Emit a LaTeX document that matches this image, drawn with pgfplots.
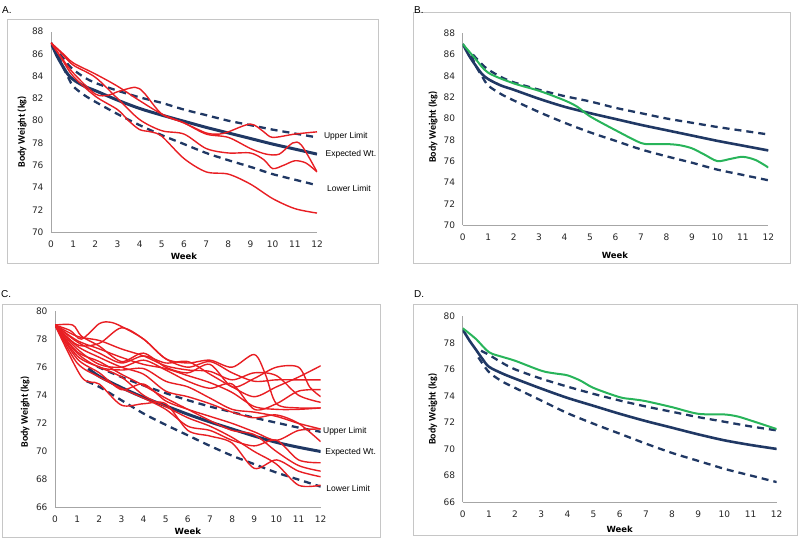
\documentclass[border=0pt]{standalone}
\usepackage{fontspec}
\usepackage{pgfplots}
\pgfplotsset{compat=1.18}
\newfontfamily\dv{DejaVu Sans}
\newfontfamily\lib{Liberation Sans}
\newfontfamily\carl{Carlito}
\definecolor{navy}{RGB}{32,56,100}
\definecolor{redc}{RGB}{232,30,35}
\definecolor{greenc}{RGB}{40,180,90}
\newcommand\tickf{\dv\fontsize{9}{10}\selectfont}
\newcommand\wkf{\dv\bfseries\fontsize{8.5}{10}\selectfont}
\newcommand\bwf{\carl\bfseries\fontsize{10}{12}\selectfont}
\newcommand\labf{\lib\fontsize{8.5}{10}\selectfont}
\newcommand\panf{\lib\fontsize{10}{12}\selectfont}
\pgfplotsset{
  panel/.style={scale only axis, anchor=south west,
    axis x line*=bottom, axis y line*=left,
    axis line style={draw=gray!70, line width=0.6pt, -},
    tick style={draw=none},
    xmin=0, xmax=12, xtick={0,1,...,12}, ytick distance=2,
    enlargelimits=false, clip mode=individual,
    /pgf/number format/assume math mode=true,
    ticklabel style={font=\tickf, text=black!85},
    xticklabel style={yshift=-5pt},
    yticklabel style={xshift=-4pt},
    xlabel={Week}, ylabel={Body Weight (kg)},
    xlabel style={font=\wkf, anchor=center},
    ylabel style={font=\bwf, anchor=center},
  },
  expc/.style={navy, line width=3pt, smooth},
  lim/.style={navy, line width=2.3pt, dash pattern=on 7pt off 5pt, smooth},
  rl/.style={redc, line width=1.4pt, smooth},
  gl/.style={greenc, line width=2pt, smooth},
}
\begin{document}
\begin{tikzpicture}
\path[use as bounding box] (0pt,0pt) rectangle (800pt,545pt);
% frames
\draw[gray!45, line width=0.8pt] (7pt,526pt) rectangle (378pt,282pt);
\draw[gray!45, line width=0.8pt] (413pt,533pt) rectangle (790pt,282pt);
\draw[gray!45, line width=0.8pt] (2pt,241pt) rectangle (380pt,8pt);
\draw[gray!45, line width=0.8pt] (413pt,241pt) rectangle (797pt,10pt);
\node[anchor=west, font=\panf, inner sep=0pt] at (2pt,535pt) {A.};
\node[anchor=west, font=\panf, inner sep=0pt] at (414pt,535pt) {B.};
\node[anchor=west, font=\panf, inner sep=0pt] at (1pt,251pt) {C.};
\node[anchor=west, font=\panf, inner sep=0pt] at (414pt,251pt) {D.};

% ---------------- A ----------------
\begin{axis}[panel, at={(51pt,313pt)}, width=266pt, height=200.3pt, ymin=70, ymax=88,
  xlabel style={at={(axis description cs:0.5,-0.12)}},
  ylabel style={at={(axis description cs:-0.109,0.5)}}]
\addplot[expc] coordinates {(0,87) (0.25,85.9) (0.5,85.0) (0.75,84.2) (1,83.7) (1.5,83.1) (2,82.7) (3,81.85) (4,81.1) (5,80.5) (6,79.95) (7,79.4) (8,78.9) (9,78.4) (10,77.9) (11,77.45) (12,77.0)};
\addplot[lim] coordinates {(0.4,86.0) (0.75,85.1) (1,84.6) (1.5,83.9) (2,83.4) (3,82.7) (4,82.1) (5,81.6) (6,81.0) (7,80.5) (8,80.0) (9,79.6) (10,79.2) (11,78.85) (12,78.5)};
\addplot[lim] coordinates {(0.35,85.9) (0.5,85.0) (0.75,84.0) (1,83.1) (1.5,82.3) (2,81.7) (3,80.6) (4,79.6) (5,78.7) (6,77.9) (7,77.1) (8,76.45) (9,75.85) (10,75.2) (11,74.7) (12,74.2)};
\addplot[rl] coordinates {(0,87) (0.5,86.1) (1,85.2) (2,84.2) (3,83.1) (4,81.8) (5,80.6) (6,79.8) (7,78.9) (7.6,78.8) (8,79.0) (9,79.7) (9.6,79.0) (10,78.5) (11,78.8) (12,79.0)};
\addplot[rl] coordinates {(0,87) (0.5,85.6) (1,84.3) (2,82.4) (2.6,82.3) (3,82.6) (3.8,83.0) (4.2,82.5) (5,80.6) (6,79.8) (7,78.8) (8,78.5) (9,77.5) (9.7,77.0) (10.3,77.0) (10.9,78.0) (11.3,77.8) (12,75.4)};
\addplot[rl] coordinates {(0,87) (0.5,85.5) (1,84.0) (2,82.2) (3,81.0) (3.5,80.0) (4,79.2) (4.5,79.0) (5,78.6) (6,76.6) (7,75.4) (8,75.2) (9,74.3) (10,73.0) (11,72.1) (12,71.7)};
\addplot[rl] coordinates {(0,87) (0.5,86.0) (1,85.0) (2,83.9) (3,82.0) (4,80.1) (5,79.1) (6,78.8) (7,77.5) (8,77.1) (9,77.1) (9.6,76.5) (10,75.7) (10.5,76.0) (11,76.4) (11.5,76.2) (12,75.4)};
\node[anchor=west, font=\labf, inner sep=0pt] at (axis cs:12.31,78.63) {Upper Limit};
\node[anchor=west, font=\labf, inner sep=0pt] at (axis cs:12.38,76.98) {Expected Wt.};
\node[anchor=west, font=\labf, inner sep=0pt] at (axis cs:12.45,73.93) {Lower Limit};
\end{axis}

% ---------------- B ----------------
\begin{axis}[panel, at={(462.7pt,320pt)}, width=305.6pt, height=191.7pt, ymin=70, ymax=88,
  xlabel style={at={(axis description cs:0.498,-0.156)}},
  ylabel style={at={(axis description cs:-0.097,0.51)}}]
\addplot[expc, line width=2.6pt] coordinates {(0,87) (0.25,85.9) (0.5,85.0) (0.75,84.2) (1,83.7) (1.5,83.1) (2,82.7) (3,81.85) (4,81.1) (5,80.5) (6,79.95) (7,79.4) (8,78.9) (9,78.4) (10,77.9) (11,77.45) (12,77.0)};
\addplot[lim] coordinates {(0.4,86.0) (0.75,85.1) (1,84.6) (1.5,83.9) (2,83.4) (3,82.7) (4,82.1) (5,81.6) (6,81.0) (7,80.5) (8,80.0) (9,79.6) (10,79.2) (11,78.85) (12,78.5)};
\addplot[lim] coordinates {(0.35,85.9) (0.5,85.0) (0.75,84.0) (1,83.1) (1.5,82.3) (2,81.7) (3,80.6) (4,79.6) (5,78.7) (6,77.9) (7,77.1) (8,76.45) (9,75.85) (10,75.2) (11,74.7) (12,74.2)};
\addplot[gl] coordinates {(0,87) (0.5,85.6) (1,84.3) (2,83.3) (3,82.6) (4,81.7) (4.5,81.1) (5,80.2) (6,78.9) (7,77.7) (7.5,77.6) (8,77.6) (8.5,77.5) (9,77.2) (9.5,76.6) (10,76.0) (10.5,76.2) (11,76.4) (11.5,76.1) (12,75.4)};
\end{axis}

% ---------------- C ----------------
\begin{axis}[panel, at={(55pt,37.3pt)}, width=265.7pt, height=196.7pt, ymin=66, ymax=80,
  xlabel style={at={(axis description cs:0.5,-0.118)}},
  ylabel style={at={(axis description cs:-0.113,0.487)}}]
\addplot[expc] coordinates {(1.5,75.9) (2,75.35) (3,74.55) (4,73.85) (5,73.25) (6,72.65) (7,72.1) (8,71.6) (9,71.1) (10,70.65) (11,70.3) (12,70.0)};
\addplot[lim] coordinates {(1.9,76.05) (3,75.3) (4,74.7) (5,74.15) (6,73.65) (7,73.2) (8,72.8) (9,72.4) (10,72.05) (11,71.7) (12,71.4)};
\addplot[lim] coordinates {(1.43,75.0) (2,74.6) (3,73.65) (4,72.7) (5,71.9) (6,71.15) (7,70.4) (8,69.7) (9,69.1) (10,68.5) (11,68.0) (12,67.5)};
\addplot[rl] coordinates {(0,79) (0.7,78.6) (1.2,78.0) (2,79.1) (2.5,79.2) (3,78.9) (4,78.0) (5,76.6) (6,76.0) (7,76.4) (8,75.6) (9,75.0) (10,75.1) (11,75.1) (12,75.1)};
\addplot[rl] coordinates {(0,79) (1,77.6) (2,77.7) (3,78.8) (4,78.0) (5,76.6) (6,76.3) (7,76.5) (8,76.0) (9,76.9) (9.5,75.5) (10,73.4) (11,73.1) (12,73.1)};
\addplot[rl] coordinates {(0,79) (0.8,79.0) (1.2,78.2) (2,77.5) (3,76.4) (4,77.0) (5,76.0) (6,75.6) (7,76.2) (8,74.6) (9,75.2) (10,76.0) (11,76.0) (11.5,74.6) (12,73.9)};
\addplot[rl] coordinates {(0,79) (1,77.8) (2,77.0) (3,76.3) (4,76.8) (5,76.3) (6,76.4) (7,75.5) (8,74.6) (9,73.9) (10,74.6) (11,75.3) (12,76.1)};
\addplot[rl] coordinates {(0,79) (1,77.3) (2,76.2) (3,76.0) (4,76.5) (5,75.8) (6,75.0) (7,74.5) (8,74.8) (9,73.0) (10,73.4) (11,74.3) (12,74.4)};
\addplot[rl] coordinates {(0,79) (1,77.0) (2,76.0) (3,75.8) (4,75.9) (5,75.0) (6,74.6) (7,73.8) (8,73.0) (9,72.8) (10,72.5) (11,72.0) (12,71.6)};
\addplot[rl] coordinates {(0,79) (1,76.6) (2,75.6) (3,74.4) (4,74.8) (5,73.6) (6,73.0) (7,72.5) (8,72.0) (9,71.4) (10,70.8) (11,71.5) (12,71.6)};
\addplot[rl] coordinates {(0,79) (1.2,75.3) (2,74.8) (3,73.3) (4,73.4) (5,73.4) (6,71.5) (7,71.1) (8,70.6) (9,68.8) (10,69.4) (11,68.6) (12,68.2)};
\addplot[rl] coordinates {(0,79) (1,76.3) (2,75.3) (3,74.5) (4,73.8) (5,73.0) (6,71.8) (7,71.5) (8,70.8) (9,70.4) (10,70.8) (11,69.4) (12,69.2)};
\addplot[rl] coordinates {(0,79) (1,76.8) (2,76.0) (3,75.3) (4,74.0) (5,73.2) (6,72.4) (7,71.8) (8,71.0) (9,70.0) (10,69.1) (11,67.6) (12,67.6)};
\addplot[rl] coordinates {(0,79) (1,77.1) (2,76.4) (3,75.5) (4,74.7) (5,73.8) (6,73.0) (7,72.2) (8,71.5) (9,71.2) (10,70.0) (11,69.0) (12,68.6)};
\addplot[rl] coordinates {(0,79) (1,77.5) (2,76.7) (3,76.0) (4,75.5) (5,74.3) (6,73.9) (7,73.4) (8,72.8) (9,72.4) (10,72.6) (11,72.0) (12,70.7)};
\addplot[rl] coordinates {(0,79) (1,77.9) (2,77.3) (3,76.7) (4,76.2) (5,75.9) (6,75.4) (7,74.9) (8,74.2) (9,73.2) (10,73.0) (11,73.0) (12,73.1)};
\addplot[rl] coordinates {(0,79) (1,78.2) (2,77.9) (3,77.3) (4,76.8) (5,76.1) (6,75.8) (7,75.7) (8,75.1) (9,75.6) (10,75.4) (11,74.0) (12,73.5)};
\node[anchor=west, font=\labf, inner sep=0pt] at (axis cs:12.1,71.46) {Upper Limit};
\node[anchor=west, font=\labf, inner sep=0pt] at (axis cs:12.2,69.94) {Expected Wt.};
\node[anchor=west, font=\labf, inner sep=0pt] at (axis cs:12.25,67.4) {Lower Limit};
\end{axis}

% ---------------- D ----------------
\begin{axis}[panel, at={(462.7pt,43pt)}, width=314pt, height=185.7pt, ymin=66, ymax=80,
  xlabel style={at={(axis description cs:0.5,-0.145)}},
  ylabel style={at={(axis description cs:-0.095,0.5)}}]
\addplot[expc, line width=2.6pt] coordinates {(0,79) (0.25,78.2) (0.5,77.5) (0.75,76.8) (1,76.2) (1.5,75.7) (2,75.3) (3,74.55) (4,73.85) (5,73.25) (6,72.65) (7,72.1) (8,71.6) (9,71.1) (10,70.65) (11,70.3) (12,70.0)};
\addplot[lim] coordinates {(0.7,77.4) (1,77.1) (1.5,76.5) (2,76.0) (3,75.3) (4,74.7) (5,74.15) (6,73.65) (7,73.2) (8,72.8) (9,72.4) (10,72.05) (11,71.7) (12,71.4)};
\addplot[lim] coordinates {(0.6,76.9) (1,75.8) (1.5,75.1) (2,74.6) (3,73.65) (4,72.7) (5,71.9) (6,71.15) (7,70.4) (8,69.7) (9,69.1) (10,68.5) (11,68.0) (12,67.5)};
\addplot[gl] coordinates {(0,79.1) (0.5,78.3) (1,77.3) (1.5,76.95) (2,76.65) (3,75.9) (3.5,75.7) (4,75.55) (4.5,75.15) (5,74.6) (6,73.9) (6.5,73.75) (7,73.6) (8,73.15) (9,72.65) (10,72.6) (10.5,72.45) (11,72.15) (12,71.5)};
\end{axis}
\end{tikzpicture}
\end{document}
